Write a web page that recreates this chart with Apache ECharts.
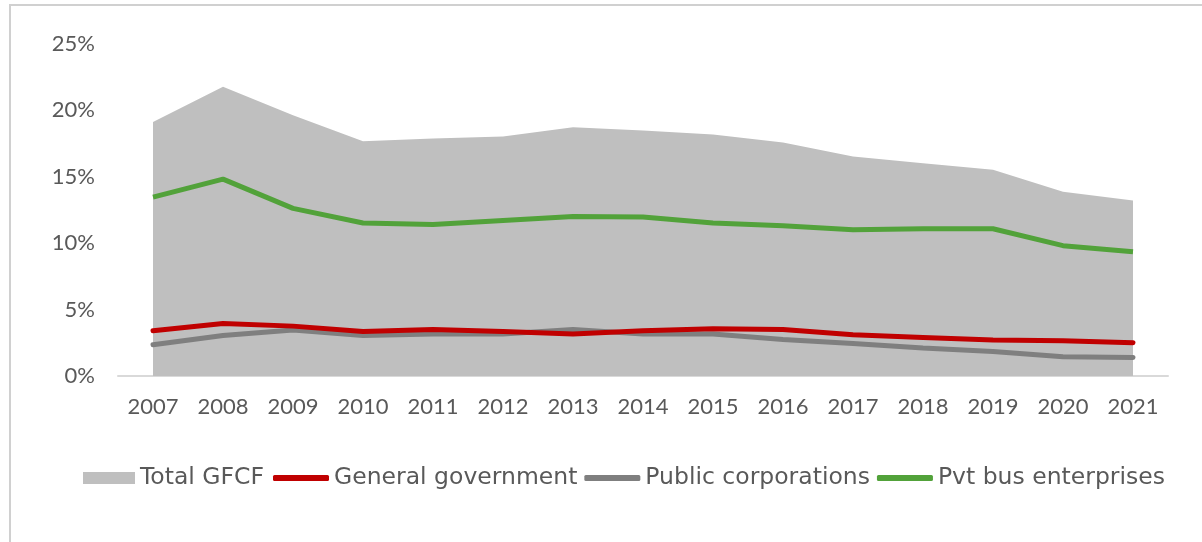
<!DOCTYPE html>
<html>
<head>
<meta charset="utf-8">
<script src="https://cdn.jsdelivr.net/npm/echarts@6/dist/echarts.min.js"></script>
<style>
  html, body { margin: 0; padding: 0; background: #ffffff; }
  #chart { width: 1202px; height: 542px; }
</style>
</head>
<body>
<div id="chart"></div>
<script>
// Gross fixed capital formation, % of GDP, by sector
const years = ['2007','2008','2009','2010','2011','2012','2013','2014','2015','2016','2017','2018','2019','2020','2021'];
const totalGFCF = [19.1, 21.75, 19.6, 17.65, 17.85, 18.0, 18.7, 18.45, 18.15, 17.55, 16.5, 16.0, 15.5, 13.85, 13.2];
const generalGovernment = [3.4, 3.95, 3.75, 3.35, 3.5, 3.35, 3.15, 3.4, 3.55, 3.5, 3.1, 2.9, 2.7, 2.65, 2.5];
const publicCorporations = [2.35, 3.05, 3.45, 3.05, 3.15, 3.15, 3.5, 3.15, 3.15, 2.75, 2.45, 2.1, 1.85, 1.45, 1.4];
const pvtBusEnterprises = [13.45, 14.8, 12.6, 11.5, 11.4, 11.7, 12.0, 11.95, 11.5, 11.3, 11.0, 11.07, 11.07, 9.8, 9.35];
const yTicks = [0, 5, 10, 15, 20, 25];

const AXIS_FONT = 'Lato, "DejaVu Sans", sans-serif';
const LEGEND_FONT = '"DejaVu Sans", sans-serif';
const TEXT = '#595959';

function draw() {
  const chart = echarts.init(document.getElementById('chart'), null, { renderer: 'canvas' });
  chart.setOption({
    backgroundColor: '#ffffff',
    animation: false,
    graphic: [{
      type: 'rect',
      shape: { x: 10, y: 5, width: 1200, height: 600 },
      style: { fill: 'none', stroke: '#D0D0D0', lineWidth: 2 },
      silent: true,
      z: -10
    }],
    grid: { left: 118, right: 34, top: 43.5, bottom: 166 },
    legend: [{
      left: 78, top: 461, padding: 5,
      itemWidth: 52, itemHeight: 12, itemGap: 7,
      icon: 'rect',
      data: ['Total GFCF'],
      textStyle: { fontFamily: LEGEND_FONT, fontSize: 23.5, color: TEXT }
    }, {
      left: 268, top: 461, padding: 5,
      itemWidth: 56, itemHeight: 6, itemGap: 7,
      icon: 'roundRect',
      data: ['General government', 'Public corporations', 'Pvt bus enterprises'],
      textStyle: { fontFamily: LEGEND_FONT, fontSize: 23.5, color: TEXT }
    }],
    xAxis: {
      type: 'category',
      data: years,
      boundaryGap: true,
      axisLine: { show: true, lineStyle: { color: '#D9D9D9', width: 2 } },
      axisTick: { show: false },
      axisLabel: { fontFamily: AXIS_FONT, fontSize: 22, color: TEXT, margin: 20 },
      splitLine: { show: false }
    },
    yAxis: {
      type: 'value',
      min: yTicks[0],
      max: yTicks[yTicks.length - 1],
      interval: yTicks[1] - yTicks[0],
      axisLine: { show: false },
      axisTick: { show: false },
      splitLine: { show: false },
      axisLabel: { fontFamily: AXIS_FONT, fontSize: 22, color: TEXT, margin: 23, formatter: '{value}%' }
    },
    series: [{
      name: 'Total GFCF',
      type: 'line',
      data: totalGFCF,
      symbol: 'none',
      lineStyle: { width: 0, opacity: 0 },
      areaStyle: { color: '#BFBFBF', opacity: 1 },
      itemStyle: { color: '#BFBFBF' },
      z: 1
    }, {
      name: 'General government',
      type: 'line',
      data: generalGovernment,
      symbol: 'none',
      lineStyle: { color: '#C00000', width: 5, cap: 'round' },
      itemStyle: { color: '#C00000' },
      z: 3
    }, {
      name: 'Public corporations',
      type: 'line',
      data: publicCorporations,
      symbol: 'none',
      lineStyle: { color: '#7F7F7F', width: 5, cap: 'round' },
      itemStyle: { color: '#7F7F7F' },
      z: 2
    }, {
      name: 'Pvt bus enterprises',
      type: 'line',
      data: pvtBusEnterprises,
      symbol: 'none',
      lineStyle: { color: '#52A23A', width: 5 },
      itemStyle: { color: '#52A23A' },
      z: 3
    }]
  });
}

// Make sure the local fonts are ready before the canvas text is measured
if (document.fonts && document.fonts.load) {
  Promise.all([
    document.fonts.load('22px Lato'),
    document.fonts.load('22px "DejaVu Sans"')
  ]).then(draw, draw);
} else {
  draw();
}
</script>
</body>
</html>
